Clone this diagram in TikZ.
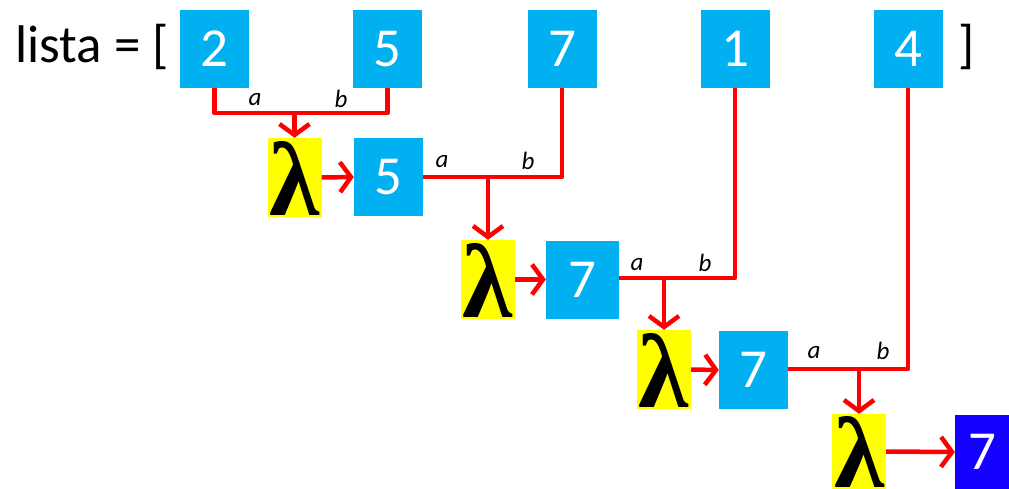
\documentclass[tikz,border=0pt]{standalone}
\usepackage{fontspec}
\usepackage{graphicx}
\setmainfont{Carlito}
\newfontfamily\lamfont{Liberation Serif}
\usetikzlibrary{arrows.meta}
\definecolor{boxblue}{RGB}{0,176,240}
\definecolor{darkblue}{RGB}{20,0,255}
\definecolor{lamyellow}{RGB}{255,255,0}
\definecolor{linered}{RGB}{255,0,0}
\newcommand{\lamglyph}[1]{\resizebox{50pt}{#1}{\lamfont\bfseries λ}}
\tikzset{
  valbox/.style={fill=boxblue, inner sep=0pt, minimum width=69pt, minimum height=78pt, text=white, font=\fontsize{55}{55}\selectfont},
  lam/.style={fill=lamyellow, inner sep=0pt, minimum width=54pt, text height=77pt, text depth=2pt},
  conn/.style={draw=linered, line width=4.5pt, line join=round},
  arr/.style={conn, -{Straight Barb[length=11pt,width=30pt,line width=4.5pt]}},
  lbl/.style={inner sep=0pt, font=\itshape\fontsize{25}{25}\selectfont},
  big/.style={inner sep=0pt, font=\fontsize{53}{53}\selectfont}
}
\begin{document}
\begin{tikzpicture}[x=1pt,y=-1pt]
\useasboundingbox (0,0) rectangle (1009,489);
\node[big, anchor=base west] (lst) at (15,63) {lista = [};
\node[big, anchor=base west] (rb) at (958,63) {]};
% top list
\node[valbox] (t2) at (214.5,49) {2};
\node[valbox] (t5) at (387.5,49) {5};
\node[valbox] (t7) at (562,49) {7};
\node[valbox] (t1) at (735,49) {1};
\node[valbox] (t4) at (908,49) {4};
% level 1
\node[lam] (l1) at (294.5,177.5) {\lamglyph{74pt}};
\node[valbox] (b1) at (388.5,177) {5};
% level 2
\node[lam] (l2) at (488,279.5) {\lamglyph{74pt}};
\node[valbox, minimum width=73pt] (b2) at (582.5,279.5) {7};
% level 3
\node[lam] (l3) at (664,369.5) {\lamglyph{74pt}};
\node[valbox] (b3) at (753.5,370) {7};
% level 4
\node[lam, text height=73pt, text depth=2pt] (l4) at (859,451.5) {\lamglyph{71pt}};
\node[valbox, fill=darkblue, minimum width=54pt, minimum height=74pt] (fin) at (982,452) {7};
% junctions
\coordinate (j1) at (294.5,113);
\coordinate (j2) at (488,177);
\coordinate (j3) at (664,278);
\coordinate (j4) at (859,369);
% connectors level 1
\draw[conn] (t2.south) |- (j1) -| (t5.south);
\draw[arr] (j1) -- (l1.north);
\draw[arr] (l1.east) -- (b1.west);
\node[lbl] (a1) at (255,100) {a};
\node[lbl] (bb1) at (341,99) {b};
% level 2
\draw[conn] (b1.east) -- (j2) -| (t7.south);
\draw[arr] (j2) -- (l2.north);
\draw[arr] (l2.east) -- (b2.west);
\node[lbl] (a2) at (442,162) {a};
\node[lbl] (bb2) at (528,161) {b};
% level 3
\draw[conn] (b2.east |- j3) -- (j3) -| (t1.south);
\draw[arr] (j3) -- (l3.north);
\draw[arr] (l3.east) -- (b3.west);
\node[lbl] (a3) at (637,265) {a};
\node[lbl] (bb3) at (705,263) {b};
% level 4
\draw[conn] (b3.east |- j4) -- (j4) -| (t4.south);
\draw[arr] (j4) -- (l4.north);
\draw[arr] (l4.east) -- (fin.west);
\node[lbl] (a4) at (814,353) {a};
\node[lbl] (bb4) at (883,351) {b};
\end{tikzpicture}
\end{document}
